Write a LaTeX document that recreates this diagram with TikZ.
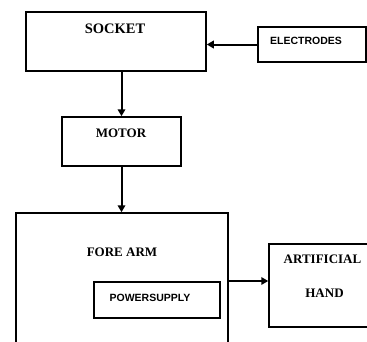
\documentclass[tikz,border=0pt]{standalone}
\usepackage{fontspec}
\setmainfont{Liberation Serif}
\newfontfamily\sansbold{Liberation Sans}[BoldFont={* Bold}]
\usetikzlibrary{arrows.meta}
\tikzset{
  box/.style={draw=black, line width=1.5pt, rectangle, inner sep=0pt, fill=none},
  arr/.style={draw=black, line width=2pt, -{Triangle[length=7pt,width=7.5pt]}},
  serlabel/.style={anchor=base, inner sep=0pt, font=\fontsize{13}{13}\selectfont\bfseries},
  sanlabel/.style={anchor=base, inner sep=0pt, font=\fontsize{10.5}{10.5}\selectfont\sansbold\bfseries},
}
\begin{document}
\begin{tikzpicture}[x=1pt,y=-1pt]
\useasboundingbox (0,0) rectangle (367,341);
\clip (0,0) rectangle (367,341);
% boxes
\node[box, minimum width=180pt, minimum height=59pt] (socket) at (116,41.5) {};
\node[box, minimum width=108pt, minimum height=35pt] (electrodes) at (312,44.5) {};
\node[box, minimum width=119pt, minimum height=49pt] (motor) at (121.5,141.5) {};
\node[box, minimum width=212pt, minimum height=160pt] (forearm) at (122,293) {};
\node[box, minimum width=126pt, minimum height=36pt] (power) at (157,300) {};
\node[box, minimum width=120pt, minimum height=83pt] (hand) at (329,285.5) {};
% labels
\node[serlabel, font=\fontsize{14.5}{14.5}\selectfont\bfseries] (socketlbl) at (115,33) {SOCKET};
\node[sanlabel] (electrodeslbl) at (306,44.5) {ELECTRODES};
\node[serlabel] (motorlbl) at (121,137) {MOTOR};
\node[serlabel] (forearmlbl) at (122,256) {FORE ARM};
\node[sanlabel] (powerlbl) at (150,301) {POWERSUPPLY};
\node[serlabel] (artlbl) at (322.5,263.5) {ARTIFICIAL};
\node[serlabel] (handlbl) at (324.5,297.5) {HAND};
% connectors
\coordinate (fa) at (228,281);
\draw[arr] (electrodes.west) -- (electrodes.west -| socket.east);
\draw[arr] (motor.north |- socket.south) -- (motor.north);
\draw[arr] (motor.south) -- (motor.south |- forearm.north);
\draw[arr] (fa) -- (fa -| hand.west);
\end{tikzpicture}
\end{document}
